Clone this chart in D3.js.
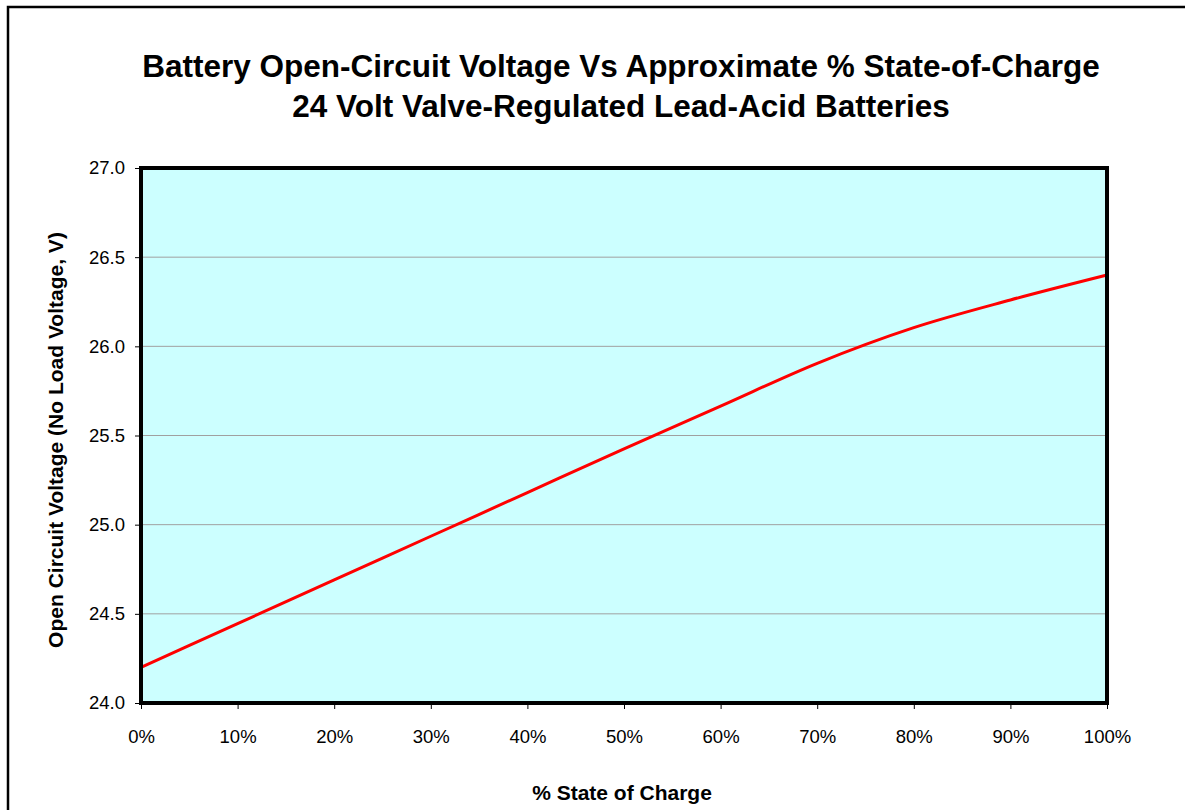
<!DOCTYPE html>
<html>
<head>
<meta charset="utf-8">
<script src="https://cdn.jsdelivr.net/npm/d3@7"></script>
<style>
  body { margin: 0; background: #fff; }
  svg { display: block; font-family: "Liberation Sans", Arial, sans-serif; }
</style>
</head>
<body>
<svg id="chart" width="1185" height="810"></svg>
<script>
const titleLines = [
  "Battery Open-Circuit Voltage Vs Approximate % State-of-Charge",
  "24 Volt Valve-Regulated Lead-Acid Batteries"
];
const stateOfCharge = [0, 10, 20, 30, 40, 50, 60, 70, 80, 90, 100];
const voltage = [24.2, 24.445, 24.69, 24.935, 25.18, 25.425, 25.665, 25.905, 26.105, 26.26, 26.4];
const yTicks = [24.0, 24.5, 25.0, 25.5, 26.0, 26.5, 27.0];
const xTicks = [0, 10, 20, 30, 40, 50, 60, 70, 80, 90, 100];

const svg = d3.select("#chart");
const plot = { left: 141, top: 168, right: 1107, bottom: 703 };

const x = d3.scaleLinear().domain([0, 100]).range([plot.left, plot.right]);
const y = d3.scaleLinear().domain([24, 27]).range([plot.bottom, plot.top]);

// outer frame (runs off the bottom/right of the picture)
svg.append("rect")
  .attr("x", 8).attr("y", 7)
  .attr("width", 1200).attr("height", 900)
  .attr("fill", "none").attr("stroke", "#000").attr("stroke-width", 2.5);

// title
svg.append("g").selectAll("text")
  .data(titleLines)
  .join("text")
  .attr("x", 621)
  .attr("y", (d, i) => 77 + i * 40)
  .attr("text-anchor", "middle")
  .attr("font-size", "31.5px")
  .attr("font-weight", "bold")
  .text(d => d);

// plot background
svg.append("rect")
  .attr("x", plot.left).attr("y", plot.top)
  .attr("width", plot.right - plot.left).attr("height", plot.bottom - plot.top)
  .attr("fill", "#ccffff");

// gridlines
svg.append("g").selectAll("line")
  .data(yTicks.filter(t => t > 24 && t < 27))
  .join("line")
  .attr("x1", plot.left).attr("x2", plot.right)
  .attr("y1", d => y(d)).attr("y2", d => y(d))
  .attr("stroke", "#a0a0a0").attr("stroke-width", 1);

// axes
const yAxis = d3.axisLeft(y).tickValues(yTicks).tickFormat(d3.format(".1f")).tickSize(6).tickPadding(10);
const xAxis = d3.axisBottom(x).tickValues(xTicks).tickFormat(d => d + "%").tickSize(6).tickPadding(21);

const gy = svg.append("g").attr("transform", `translate(${plot.left},0)`).call(yAxis);
const gx = svg.append("g").attr("transform", `translate(0,${plot.bottom})`).call(xAxis);
[gx, gy].forEach(g => {
  g.select(".domain").remove();
  g.selectAll("line").attr("stroke", "#000");
  g.selectAll("text").attr("font-size", "18.5px").attr("fill", "#000")
    .attr("font-family", "Liberation Sans, Arial, sans-serif");
});

// series line
const line = d3.line()
  .x((d, i) => x(stateOfCharge[i]))
  .y(d => y(d))
  .curve(d3.curveMonotoneX);

svg.append("path")
  .datum(voltage)
  .attr("d", line)
  .attr("fill", "none")
  .attr("stroke", "#ff0000")
  .attr("stroke-width", 3);

// plot border
svg.append("rect")
  .attr("x", plot.left).attr("y", plot.top)
  .attr("width", plot.right - plot.left).attr("height", plot.bottom - plot.top)
  .attr("fill", "none").attr("stroke", "#000").attr("stroke-width", 4);

// axis titles
svg.append("text")
  .attr("x", 622).attr("y", 800)
  .attr("text-anchor", "middle")
  .attr("font-size", "21px").attr("font-weight", "bold")
  .text("% State of Charge");

svg.append("text")
  .attr("transform", "translate(63,440) rotate(-90)")
  .attr("text-anchor", "middle")
  .attr("font-size", "21px").attr("font-weight", "bold")
  .text("Open Circuit Voltage (No Load Voltage, V)");
</script>
</body>
</html>
